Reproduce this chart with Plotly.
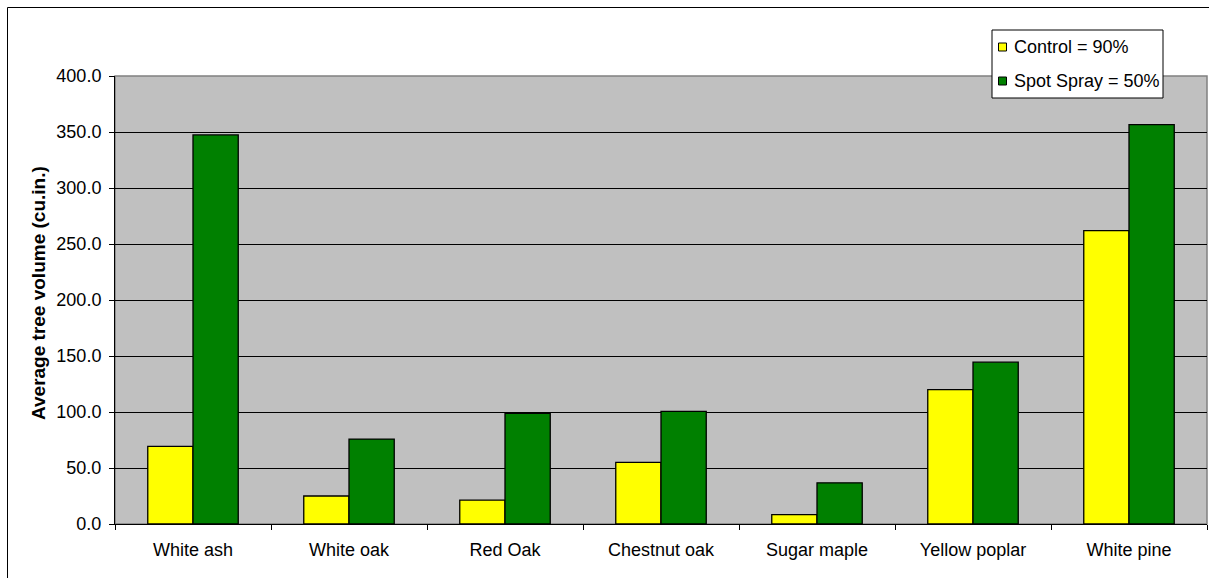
import plotly.graph_objects as go

categories = ["White ash", "White oak", "Red Oak", "Chestnut oak", "Sugar maple", "Yellow poplar", "White pine"]
control = [69.3, 25.0, 21.4, 55.0, 8.3, 120.0, 262.0]
spot_spray = [347.4, 75.8, 98.8, 100.5, 36.8, 144.5, 356.5]
series_names = ["Control = 90%", "Spot Spray = 50%"]
series_colors = ["#FFFF00", "#008000"]
y_ticks = [0, 50, 100, 150, 200, 250, 300, 350, 400]

W, H = 1209, 578
L, R, T, B = 115, 2, 76, 54
PW, PH = W - L - R, H - T - B

def px(x):
    return (x - L) / PW

def py(y):
    return (H - B - y) / PH

FONT = "Liberation Sans, Arial, sans-serif"

fig = go.Figure()
for name, vals, col in zip(series_names, [control, spot_spray], series_colors):
    fig.add_trace(go.Bar(
        x=categories, y=vals, name=name, showlegend=False,
        marker=dict(color=col, line=dict(color="black", width=1.3)),
    ))

shapes = [
    # plot area border (gray top/right)
    dict(type="rect", xref="paper", yref="paper", x0=0, x1=1, y0=0, y1=1,
         line=dict(color="#808080", width=1.5), layer="below"),
    # outer chart frame
    dict(type="rect", xref="paper", yref="paper", x0=px(7.5), x1=px(1300), y0=py(7.5), y1=py(700),
         line=dict(color="black", width=1)),
    # legend box
    dict(type="rect", xref="paper", yref="paper", x0=px(992), x1=px(1163), y0=py(30), y1=py(98),
         line=dict(color="black", width=1), fillcolor="white"),
]
annotations = []
for i, (name, col) in enumerate(zip(series_names, series_colors)):
    cy = 47 + 34 * i
    shapes.append(dict(type="rect", xref="paper", yref="paper",
                       x0=px(998.5), x1=px(1006.5), y0=py(cy - 4), y1=py(cy + 4),
                       line=dict(color="black", width=1), fillcolor=col))
    annotations.append(dict(xref="paper", yref="paper", x=px(1012), y=py(cy),
                            xanchor="left", yanchor="middle", showarrow=False,
                            text=name, font=dict(family=FONT, size=18, color="black")))

annotations.append(dict(xref="paper", yref="paper", x=px(38), y=py(293),
                        xanchor="center", yanchor="middle", showarrow=False, textangle=-90,
                        text="<b>Average tree volume (cu.in.)</b>",
                        font=dict(family=FONT, size=19, color="black")))

fig.update_layout(
    width=W, height=H,
    margin=dict(l=L, r=R, t=T, b=B, autoexpand=False),
    paper_bgcolor="white", plot_bgcolor="#C0C0C0",
    barmode="group", bargap=0.42, bargroupgap=0,
    font=dict(family=FONT, size=18, color="black"),
    showlegend=False,
    shapes=shapes, annotations=annotations,
    xaxis=dict(showline=True, linecolor="black", linewidth=1, ticks="outside", ticklen=5,
               tickcolor="black", tickson="boundaries", showgrid=False, ticklabelstandoff=9,
               tickfont=dict(family=FONT, size=18, color="black"), fixedrange=True),
    yaxis=dict(range=[0, 400], tickvals=y_ticks, tickformat=".1f", showline=True,
               linecolor="black", linewidth=1, ticks="outside", ticklen=5, tickcolor="black",
               showgrid=True, gridcolor="black", gridwidth=1, zeroline=False, ticklabelstandoff=4,
               tickfont=dict(family=FONT, size=18, color="black"), fixedrange=True),
)

fig.write_html("out.html")
